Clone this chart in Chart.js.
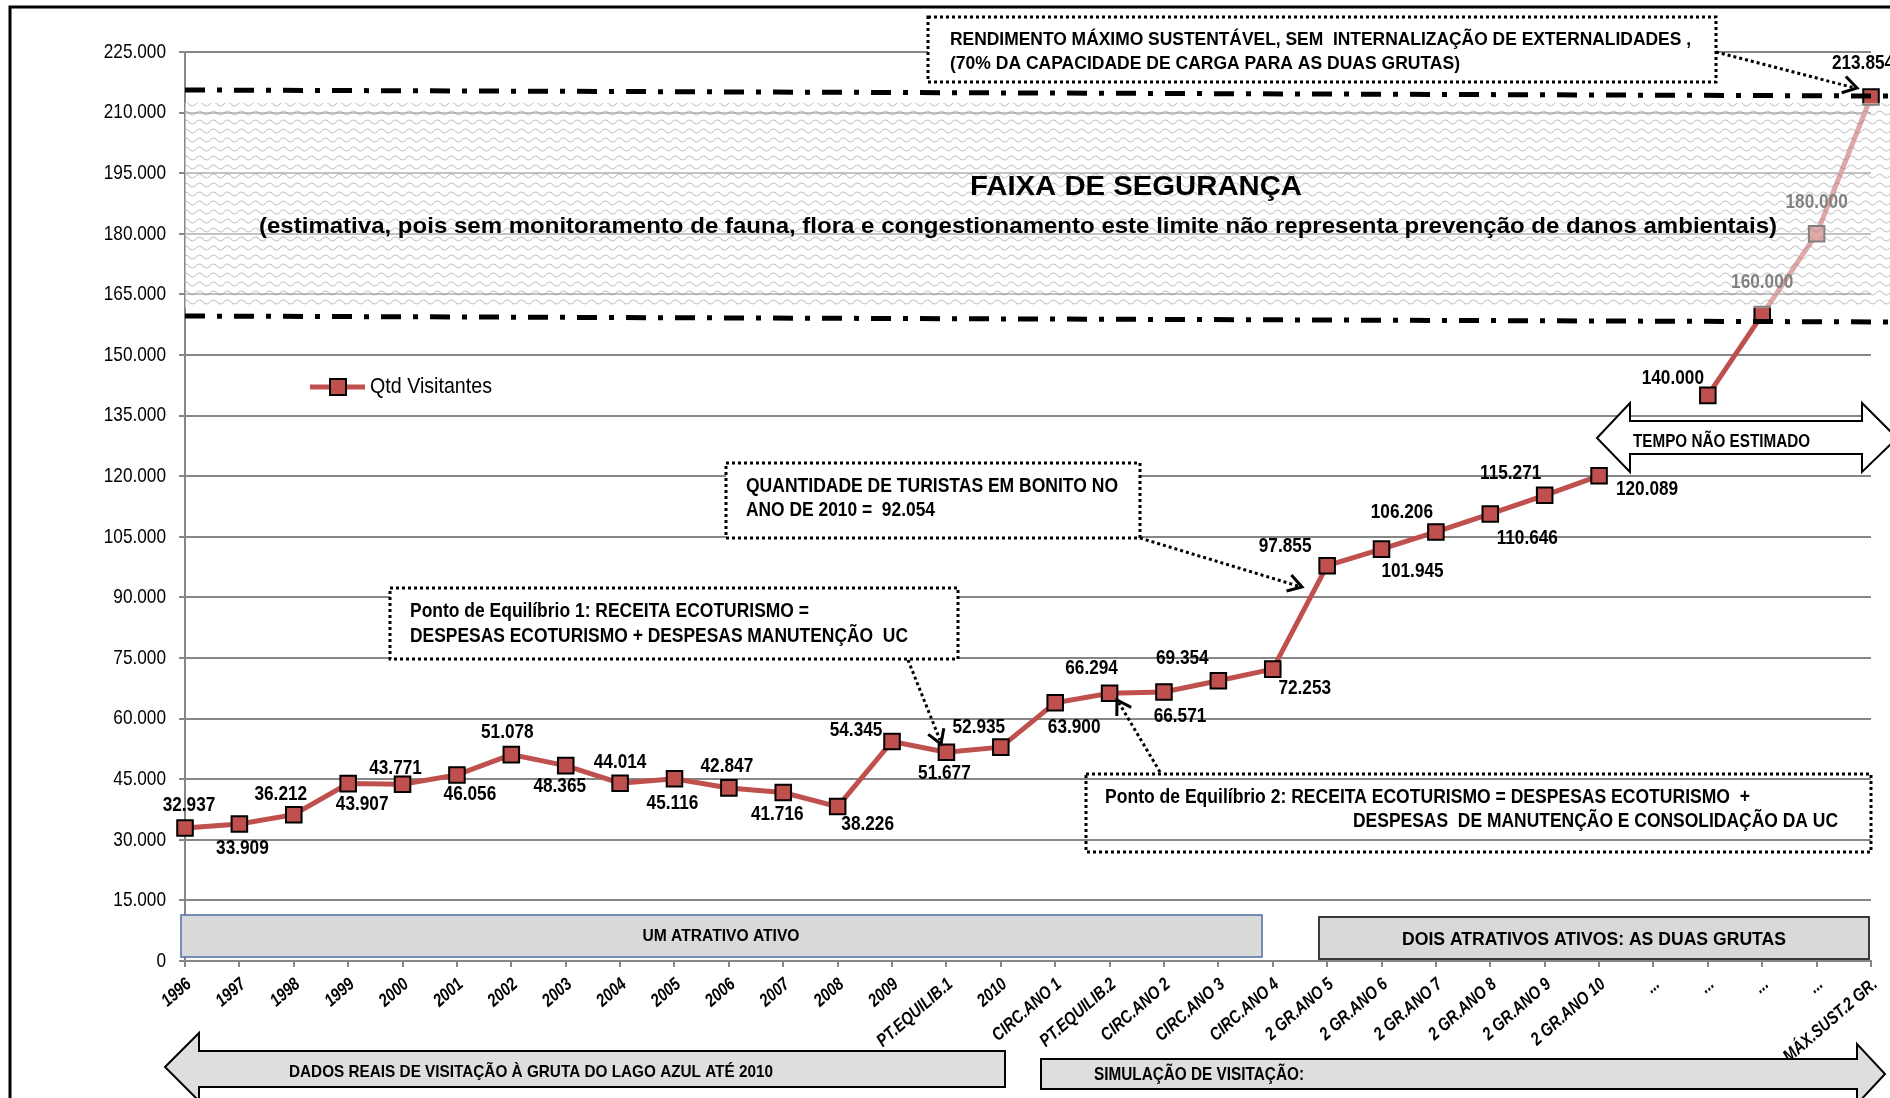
<!DOCTYPE html>
<html><head><meta charset="utf-8">
<script src="https://cdn.jsdelivr.net/npm/chart.js@4.4.1/dist/chart.umd.min.js"></script>
<style>html,body{margin:0;padding:0;background:#fff;overflow:hidden}#wrap{position:relative;width:1890px;height:1098px}</style>
</head><body><div id="wrap"><canvas id="c" width="1890" height="1098"></canvas></div>
<script>
// ---------------- data ----------------
const categories = ['1996','1997','1998','1999','2000','2001','2002','2003','2004','2005','2006','2007','2008','2009',
  'PT.EQUILIB.1','2010','CIRC.ANO 1','PT.EQUILIB.2','CIRC.ANO 2','CIRC.ANO 3','CIRC.ANO 4',
  '2 GR.ANO 5','2 GR.ANO 6','2 GR.ANO 7','2 GR.ANO 8','2 GR.ANO 9','2 GR.ANO 10','...','...','...','...','MÁX.SUST.2 GR.'];
const visitors = [32937,33909,36212,43907,43771,46056,51078,48365,44014,45116,42847,41716,38226,54345,
  51677,52935,63900,66294,66571,69354,72253,97855,101945,106206,110646,115271,120089,null,140000,160000,180000,213854];
const seriesName = 'Qtd Visitantes';
const yTickStep = 15000;
const yMax = 225000;
// safety band: dash-dot limits [left,right] and hatched area [bottom,top]
const bandUpperLine = [215600, 214100];
const bandLowerLine = [159650, 158170];
const bandHatch = [161600, 212400];

// label offsets (style only, px)
const labelDx = [4,3,-13,14,-7,13,-4,-6,0,-2,-2,-6,30,-36,-2,-22,19,-18,16,-36,32,-42,31,-34,37,-34,48,0,-35,0,0,-8];
const labelDy = [-23,24,-21,21,-16,19,-22,21,-21,24,-22,22,18,-11,21,-20,24,-25,24,-23,19,-19,22,-20,24,-22,13,0,-17,-32,-32,-34];

const ARIAL = '"Liberation Sans", Arial, sans-serif';
const NARROW_K = 0.82;   // emulate Arial Narrow by horizontal compression
const RED = '#c0504d';
const GRID = '#878787';

function fmt(v){ return String(v).replace(/\B(?=(\d{3})+(?!\d))/g,'.'); }

// narrow text (Arial metrics compressed horizontally)
function narrow(ctx, text, x, y, font, align, rot, color){
  ctx.save();
  ctx.font = font; ctx.textBaseline = 'middle'; ctx.textAlign = align || 'left';
  ctx.fillStyle = color || '#000';
  ctx.translate(x, y);
  if (rot) ctx.rotate(rot);
  ctx.scale(NARROW_K, 1);
  ctx.fillText(text, 0, 0);
  ctx.restore();
}
function fitText(ctx, text, x, y, font, targetW, align){
  ctx.save();
  ctx.font = font; ctx.textBaseline = 'middle'; ctx.textAlign = 'left';
  const w = ctx.measureText(text).width;
  const sx = targetW ? targetW / w : 1;
  let x0 = x;
  if (align === 'center') x0 = x - w*sx/2; else if (align === 'right') x0 = x - w*sx;
  ctx.translate(x0, y); ctx.scale(sx, 1);
  ctx.fillStyle = '#000';
  ctx.fillText(text, 0, 0);
  ctx.restore();
}
function dottedLine(ctx, x1,y1,x2,y2){
  ctx.save(); ctx.strokeStyle='#000'; ctx.lineWidth=3; ctx.setLineDash([3,3]);
  ctx.beginPath(); ctx.moveTo(x1,y1); ctx.lineTo(x2,y2); ctx.stroke(); ctx.restore();
}
function arrowHead(ctx, x1,y1,x2,y2, len, ang){
  len = len || 16; ang = ang || 0.55;
  const a = Math.atan2(y2-y1, x2-x1);
  ctx.save(); ctx.strokeStyle='#000'; ctx.lineWidth=3; ctx.setLineDash([]);
  ctx.beginPath();
  ctx.moveTo(x2-len*Math.cos(a-ang), y2-len*Math.sin(a-ang));
  ctx.lineTo(x2,y2);
  ctx.lineTo(x2-len*Math.cos(a+ang), y2-len*Math.sin(a+ang));
  ctx.stroke(); ctx.restore();
}
function dottedBox(ctx, x1,y1,x2,y2, fill){
  ctx.save();
  if (fill){ ctx.fillStyle = fill; ctx.fillRect(x1,y1,x2-x1,y2-y1); }
  ctx.strokeStyle='#000'; ctx.lineWidth=3; ctx.setLineDash([3,3]);
  ctx.strokeRect(x1,y1,x2-x1,y2-y1); ctx.restore();
}
function polyShape(ctx, pts, fill, stroke, lw){
  ctx.save(); ctx.beginPath(); ctx.moveTo(pts[0][0], pts[0][1]);
  for (let i=1;i<pts.length;i++) ctx.lineTo(pts[i][0], pts[i][1]);
  ctx.closePath(); ctx.fillStyle=fill; ctx.fill();
  ctx.strokeStyle=stroke; ctx.lineWidth=lw; ctx.lineJoin='miter'; ctx.stroke(); ctx.restore();
}

// wavy hatch pattern
const tile = document.createElement('canvas'); tile.width = 14; tile.height = 9;
(function(){ const t = tile.getContext('2d'); t.strokeStyle='rgba(140,140,140,0.5)'; t.lineWidth=1.1;
  t.beginPath(); t.moveTo(0,5); t.quadraticCurveTo(3.5,1,7,5); t.quadraticCurveTo(10.5,9,14,5); t.stroke(); })();

const labelsPlugin = {
  id: 'pointLabels',
  afterDatasetsDraw(chart){
    const ctx = chart.ctx; const meta = chart.getDatasetMeta(0);
    meta.data.forEach((pt, i) => {
      const v = visitors[i]; if (v === null) return;
      narrow(ctx, fmt(v), pt.x + labelDx[i], pt.y + labelDy[i], 'bold 21px ' + ARIAL, 'center');
    });
  }
};

const annotPlugin = {
  id: 'annot',
  afterDraw(chart){
    const ctx = chart.ctx; const ys = chart.scales.y; const xs = chart.scales.x; const ca = chart.chartArea;
    const W = chart.width;

    // axis tick labels (positions from the library's scales)
    ys.ticks.forEach(t => {
      narrow(ctx, fmt(t.value), 166, ys.getPixelForValue(t.value), '21px ' + ARIAL, 'right');
    });
    const rot = -41 * Math.PI / 180;
    categories.forEach((c, i) => {
      narrow(ctx, c, xs.getPixelForValue(i) + 4, ca.bottom + 21, 'italic bold 18px ' + ARIAL, 'right', rot);
    });

    // safety band overlay
    const yTop = ys.getPixelForValue(bandHatch[1]), yBot = ys.getPixelForValue(bandHatch[0]);
    ctx.save();
    ctx.fillStyle = 'rgba(255,255,255,0.5)';
    ctx.fillRect(ca.left, yTop, W - ca.left, yBot - yTop);
    ctx.fillStyle = ctx.createPattern(tile, 'repeat');
    ctx.fillRect(ca.left, yTop, W - ca.left, yBot - yTop);
    ctx.restore();

    // band texts
    fitText(ctx, 'FAIXA DE SEGURANÇA', 1136, 187, 'bold 28px ' + ARIAL, 332, 'center');
    fitText(ctx, '(estimativa, pois sem monitoramento de fauna, flora e congestionamento este limite não representa prevenção de danos ambientais)', 259, 227, 'bold 22px ' + ARIAL, 1518, 'left');

    // dash-dot limits
    const dd = (vals) => {
      ctx.save(); ctx.strokeStyle='#000'; ctx.lineWidth=5; ctx.setLineDash([20,12,5,12]);
      ctx.beginPath();
      ctx.moveTo(ca.left, ys.getPixelForValue(vals[0]));
      ctx.lineTo(W, ys.getPixelForValue(vals[1]));
      ctx.stroke(); ctx.restore();
    };
    dd(bandUpperLine); dd(bandLowerLine);

    // top box
    dottedBox(ctx, 928, 17, 1716, 82, '#fff');
    fitText(ctx, 'RENDIMENTO MÁXIMO SUSTENTÁVEL, SEM  INTERNALIZAÇÃO DE EXTERNALIDADES ,', 950, 40, 'bold 19px ' + ARIAL, 741, 'left');
    fitText(ctx, '(70% DA CAPACIDADE DE CARGA PARA AS DUAS GRUTAS)', 950, 64, 'bold 19px ' + ARIAL, 510, 'left');
    dottedLine(ctx, 1716, 52, 1855, 88); arrowHead(ctx, 1716, 52, 1857, 88);

    // legend
    ctx.save();
    ctx.strokeStyle = RED; ctx.lineWidth = 5; ctx.beginPath(); ctx.moveTo(310,387); ctx.lineTo(365,387); ctx.stroke();
    ctx.fillStyle = RED; ctx.fillRect(330,379,16,16); ctx.strokeStyle='#000'; ctx.lineWidth=2; ctx.strokeRect(330,379,16,16);
    ctx.restore();
    fitText(ctx, seriesName, 370, 387, '22px ' + ARIAL, 122, 'left');

    // PE1 box
    dottedBox(ctx, 390, 588, 958, 659, '#fff');
    fitText(ctx, 'Ponto de Equilíbrio 1: RECEITA ECOTURISMO =', 410, 611, 'bold 20px ' + ARIAL, 399, 'left');
    fitText(ctx, 'DESPESAS ECOTURISMO + DESPESAS MANUTENÇÃO  UC', 410, 636, 'bold 20px ' + ARIAL, 498, 'left');
    dottedLine(ctx, 908, 660, 940, 740); arrowHead(ctx, 908, 660, 941, 744);

    // QT box
    dottedBox(ctx, 726, 463, 1140, 538, '#fff');
    fitText(ctx, 'QUANTIDADE DE TURISTAS EM BONITO NO', 746, 487, 'bold 19.5px ' + ARIAL, 372, 'left');
    fitText(ctx, 'ANO DE 2010 =  92.054', 746, 511, 'bold 19.5px ' + ARIAL, 189, 'left');
    dottedLine(ctx, 1140, 538, 1298, 586); arrowHead(ctx, 1140, 538, 1302, 587);

    // PE2 box (transparent)
    dottedBox(ctx, 1086, 774, 1871, 852, null);
    fitText(ctx, 'Ponto de Equilíbrio 2: RECEITA ECOTURISMO = DESPESAS ECOTURISMO  +', 1105, 797, 'bold 20px ' + ARIAL, 645, 'left');
    fitText(ctx, 'DESPESAS  DE MANUTENÇÃO E CONSOLIDAÇÃO DA UC', 1353, 821, 'bold 20px ' + ARIAL, 485, 'left');
    dottedLine(ctx, 1160, 772, 1119, 703); arrowHead(ctx, 1160, 772, 1117, 700);

    // TEMPO NÃO ESTIMADO double arrow
    polyShape(ctx, [[1597,438],[1630,403],[1630,421],[1862,421],[1862,403],[1897,438],[1862,472],[1862,454],[1630,454],[1630,472]], '#fff', '#000', 2);
    fitText(ctx, 'TEMPO NÃO ESTIMADO', 1633, 442, 'bold 18px ' + ARIAL, 177, 'left');

    // attraction bars
    ctx.save();
    ctx.fillStyle = '#d9d9d9'; ctx.fillRect(181, 915, 1081, 42);
    ctx.strokeStyle = '#4f6fa0'; ctx.lineWidth = 1.5; ctx.strokeRect(181, 915, 1081, 42);
    ctx.fillStyle = '#d9d9d9'; ctx.fillRect(1319, 917, 550, 42);
    ctx.strokeStyle = '#3a3a3a'; ctx.lineWidth = 2; ctx.strokeRect(1319, 917, 550, 42);
    ctx.restore();
    fitText(ctx, 'UM ATRATIVO ATIVO', 721, 937, 'bold 16px ' + ARIAL, 157, 'center');
    fitText(ctx, 'DOIS ATRATIVOS ATIVOS: AS DUAS GRUTAS', 1594, 940, 'bold 19px ' + ARIAL, 384, 'center');

    // bottom block arrows
    polyShape(ctx, [[165,1067],[199,1033],[199,1051],[1005,1051],[1005,1087],[199,1087],[199,1101]], '#dedede', '#000', 2);
    fitText(ctx, 'DADOS REAIS DE VISITAÇÃO À GRUTA DO LAGO AZUL ATÉ 2010', 289, 1072, 'bold 17px ' + ARIAL, 484, 'left');
    polyShape(ctx, [[1041,1059],[1857,1059],[1857,1044],[1885,1074],[1857,1104],[1857,1089],[1041,1089]], '#dedede', '#000', 2);
    fitText(ctx, 'SIMULAÇÃO DE VISITAÇÃO:', 1094, 1075, 'bold 17.5px ' + ARIAL, 210, 'left');

    // outer frame
    ctx.save(); ctx.strokeStyle='#000'; ctx.lineWidth=3;
    ctx.beginPath(); ctx.moveTo(10,1100); ctx.lineTo(10,7); ctx.lineTo(1892,7); ctx.stroke(); ctx.restore();
  }
};

new Chart(document.getElementById('c'), {
  type: 'line',
  data: {
    labels: categories,
    datasets: [{
      label: seriesName,
      data: visitors,
      borderColor: RED, borderWidth: 5, backgroundColor: RED,
      pointStyle: 'rect', pointRadius: 11, pointHoverRadius: 11,
      pointBackgroundColor: RED, pointBorderColor: '#000', pointBorderWidth: 2,
      spanGaps: false, tension: 0, clip: false
    }]
  },
  options: {
    responsive: false, animation: false, devicePixelRatio: 1,
    layout: { padding: { left: 0, right: 19, top: 52, bottom: 0 } },
    plugins: { legend: { display: false }, tooltip: { enabled: false }, title: { display: false } },
    scales: {
      x: {
        type: 'category', offset: false,
        grid: { display: true, drawOnChartArea: false, drawTicks: true, tickLength: 6, color: GRID, lineWidth: 2 },
        border: { color: GRID, width: 2 },
        ticks: { display: false, autoSkip: false },
        afterFit(scale){ scale.height = 137; }
      },
      y: {
        min: 0, max: yMax,
        grid: { color: GRID, lineWidth: 2, tickLength: 6, drawTicks: true },
        border: { color: GRID, width: 2 },
        ticks: { display: false, stepSize: yTickStep },
        afterFit(scale){ scale.width = 185; }
      }
    }
  },
  plugins: [labelsPlugin, annotPlugin]
});
</script>
</body></html>
